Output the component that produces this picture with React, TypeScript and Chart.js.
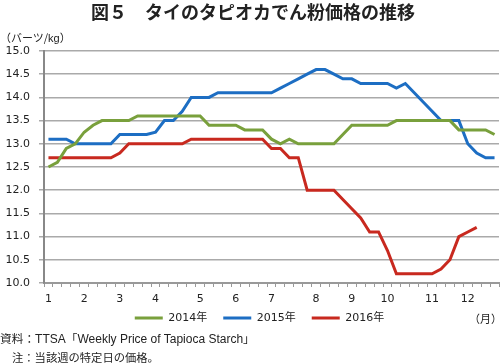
import React, { useEffect, useRef } from 'react';
import { Chart, registerables } from 'chart.js';

Chart.register(...registerables);

// ---- data ----
const monthLabels = ['1', '2', '3', '4', '5', '6', '7', '8', '9', '10', '11', '12'];
const monthStartWeeks = [0, 4, 8, 12, 17, 21, 25, 30, 34, 38, 43, 47];
const weekCount = 51;

const seriesNames = ['2014年', '2015年', '2016年'];
const seriesColors = ['#79A03C', '#1D6EC3', '#C8291F'];

const prices2014 = [
  12.5, 12.6, 12.9, 13.0, 13.25, 13.4, 13.5, 13.5, 13.5, 13.5,
  13.6, 13.6, 13.6, 13.6, 13.6, 13.6, 13.6, 13.6, 13.4, 13.4,
  13.4, 13.4, 13.3, 13.3, 13.3, 13.1, 13.0, 13.1, 13.0, 13.0,
  13.0, 13.0, 13.0, 13.2, 13.4, 13.4, 13.4, 13.4, 13.4, 13.5,
  13.5, 13.5, 13.5, 13.5, 13.5, 13.5, 13.3, 13.3, 13.3, 13.3,
  13.2,
];
const prices2015 = [
  13.1, 13.1, 13.1, 13.0, 13.0, 13.0, 13.0, 13.0, 13.2, 13.2,
  13.2, 13.2, 13.25, 13.5, 13.5, 13.7, 14.0, 14.0, 14.0, 14.1,
  14.1, 14.1, 14.1, 14.1, 14.1, 14.1, 14.2, 14.3, 14.4, 14.5,
  14.6, 14.6, 14.5, 14.4, 14.4, 14.3, 14.3, 14.3, 14.3, 14.2,
  14.3, 14.1, 13.9, 13.7, 13.5, 13.5, 13.5, 13.0, 12.8, 12.7,
  12.7,
];
const prices2016 = [
  12.7, 12.7, 12.7, 12.7, 12.7, 12.7, 12.7, 12.7, 12.8, 13.0,
  13.0, 13.0, 13.0, 13.0, 13.0, 13.0, 13.1, 13.1, 13.1, 13.1,
  13.1, 13.1, 13.1, 13.1, 13.1, 12.9, 12.9, 12.7, 12.7, 12.0,
  12.0, 12.0, 12.0, 11.8, 11.6, 11.4, 11.1, 11.1, 10.7, 10.2,
  10.2, 10.2, 10.2, 10.2, 10.3, 10.5, 11.0, 11.1, 11.2,
];
const yMin = 10;
const yMax = 15;
const yStep = 0.5;

const FONT = '"DejaVu Sans", "Noto Sans CJK JP", sans-serif';
const CJK = '"Noto Sans CJK JP", sans-serif';
const LATIN = '"Liberation Sans", Arial, sans-serif';

const legendShift = {
  id: 'legendShift',
  afterLayout(chart: any) {
    const lg = chart.legend;
    if (lg) {
      lg.left += 10;
      lg.right += 10;
    }
  },
};

export default function App() {
  const canvasRef = useRef<HTMLCanvasElement | null>(null);

  useEffect(() => {
    const canvas = canvasRef.current;
    if (!canvas) return;
    const weekLabels = Array.from({ length: weekCount }, (_, i) => {
      const m = monthStartWeeks.indexOf(i);
      return m >= 0 ? monthLabels[m] : '';
    });
    const allSeries = [prices2014, prices2015, prices2016];
    const defaultGen = (Chart.defaults.plugins.legend.labels as any).generateLabels;
    const chart = new Chart(canvas, {
      type: 'line',
      data: {
        labels: weekLabels,
        datasets: allSeries.map((d, k) => ({
          label: seriesNames[k],
          data: d,
          borderColor: seriesColors[k],
          backgroundColor: seriesColors[k],
          borderWidth: 3,
          pointRadius: 0,
          tension: 0,
          fill: false,
        })),
      },
      plugins: [legendShift],
      options: {
        responsive: false,
        animation: false,
        events: [],
        layout: { padding: { top: 51, right: 3, bottom: 29.5, left: 0 } },
        plugins: {
          title: { display: false },
          tooltip: { enabled: false },
          legend: {
            position: 'bottom',
            labels: {
              usePointStyle: true,
              pointStyle: 'line',
              pointStyleWidth: 28,
              padding: 5.5,
              color: '#222',
              font: { family: FONT, size: 11 },
              generateLabels: (c: any) => {
                const items = defaultGen(c);
                return items.map((it: any, idx: number) => ({
                  ...it,
                  text: idx < items.length - 1 ? it.text + '   ' : it.text,
                }));
              },
            },
          },
        },
        scales: {
          x: {
            type: 'category',
            offset: true,
            grid: {
              display: true,
              drawOnChartArea: false,
              drawTicks: true,
              tickLength: 4,
              offset: true,
              color: '#999',
              lineWidth: 1,
            },
            border: { display: true, color: '#999', width: 2 },
            ticks: {
              autoSkip: false,
              maxRotation: 0,
              minRotation: 0,
              padding: 6,
              color: '#222',
              font: { family: FONT, size: 11 },
            },
            afterFit: (s: any) => {
              s.height = 24;
            },
          },
          y: {
            min: yMin,
            max: yMax,
            ticks: {
              stepSize: yStep,
              padding: 9,
              color: '#222',
              font: { family: FONT, size: 11 },
              callback: (v: any) => Number(v).toFixed(1),
            },
            grid: {
              color: '#aaa',
              lineWidth: 1.5,
              tickLength: 5,
              drawTicks: true,
            },
            border: { display: true, color: '#888', width: 2 },
            afterFit: (s: any) => {
              s.width = 44;
            },
          },
        },
      } as any,
    });
    return () => chart.destroy();
  }, []);

  const abs: React.CSSProperties = { position: 'absolute', whiteSpace: 'nowrap', color: '#222' };
  const lat: React.CSSProperties = { fontFamily: LATIN, fontSize: 12 };

  return (
    <div style={{ position: 'fixed', left: 0, top: 0, width: 502, height: 363, background: '#fff', overflow: 'hidden' }}>
      <canvas ref={canvasRef} width={502} height={363} style={{ position: 'absolute', left: 0, top: 0, width: 502, height: 363 }} />
      <div style={{ ...abs, left: 0, top: 0, width: 502, textAlign: 'center', fontFamily: CJK, fontWeight: 'bold', fontSize: 18, lineHeight: '22px', paddingLeft: 2 }}>
        図５　タイのタピオカでん粉価格の推移
      </div>
      <div style={{ ...abs, left: 0, top: 29, fontFamily: CJK, fontSize: 11, lineHeight: '16px' }}>
        （バーツ/<span style={{ fontFamily: LATIN, fontSize: 11 }}>kg</span>）
      </div>
      <div style={{ ...abs, right: 0, top: 310, fontFamily: CJK, fontSize: 11, lineHeight: '16px' }}>（月）</div>
      <div style={{ ...abs, left: 0, top: 330, fontFamily: CJK, fontSize: 11.7, lineHeight: '16px' }}>
        資料：<span style={lat}>TTSA</span>「<span style={lat}>Weekly Price of Tapioca Starch</span>」
      </div>
      <div style={{ ...abs, left: 12, top: 349, fontFamily: CJK, fontSize: 11.3, lineHeight: '16px' }}>
        注：当該週の特定日の価格。
      </div>
    </div>
  );
}
